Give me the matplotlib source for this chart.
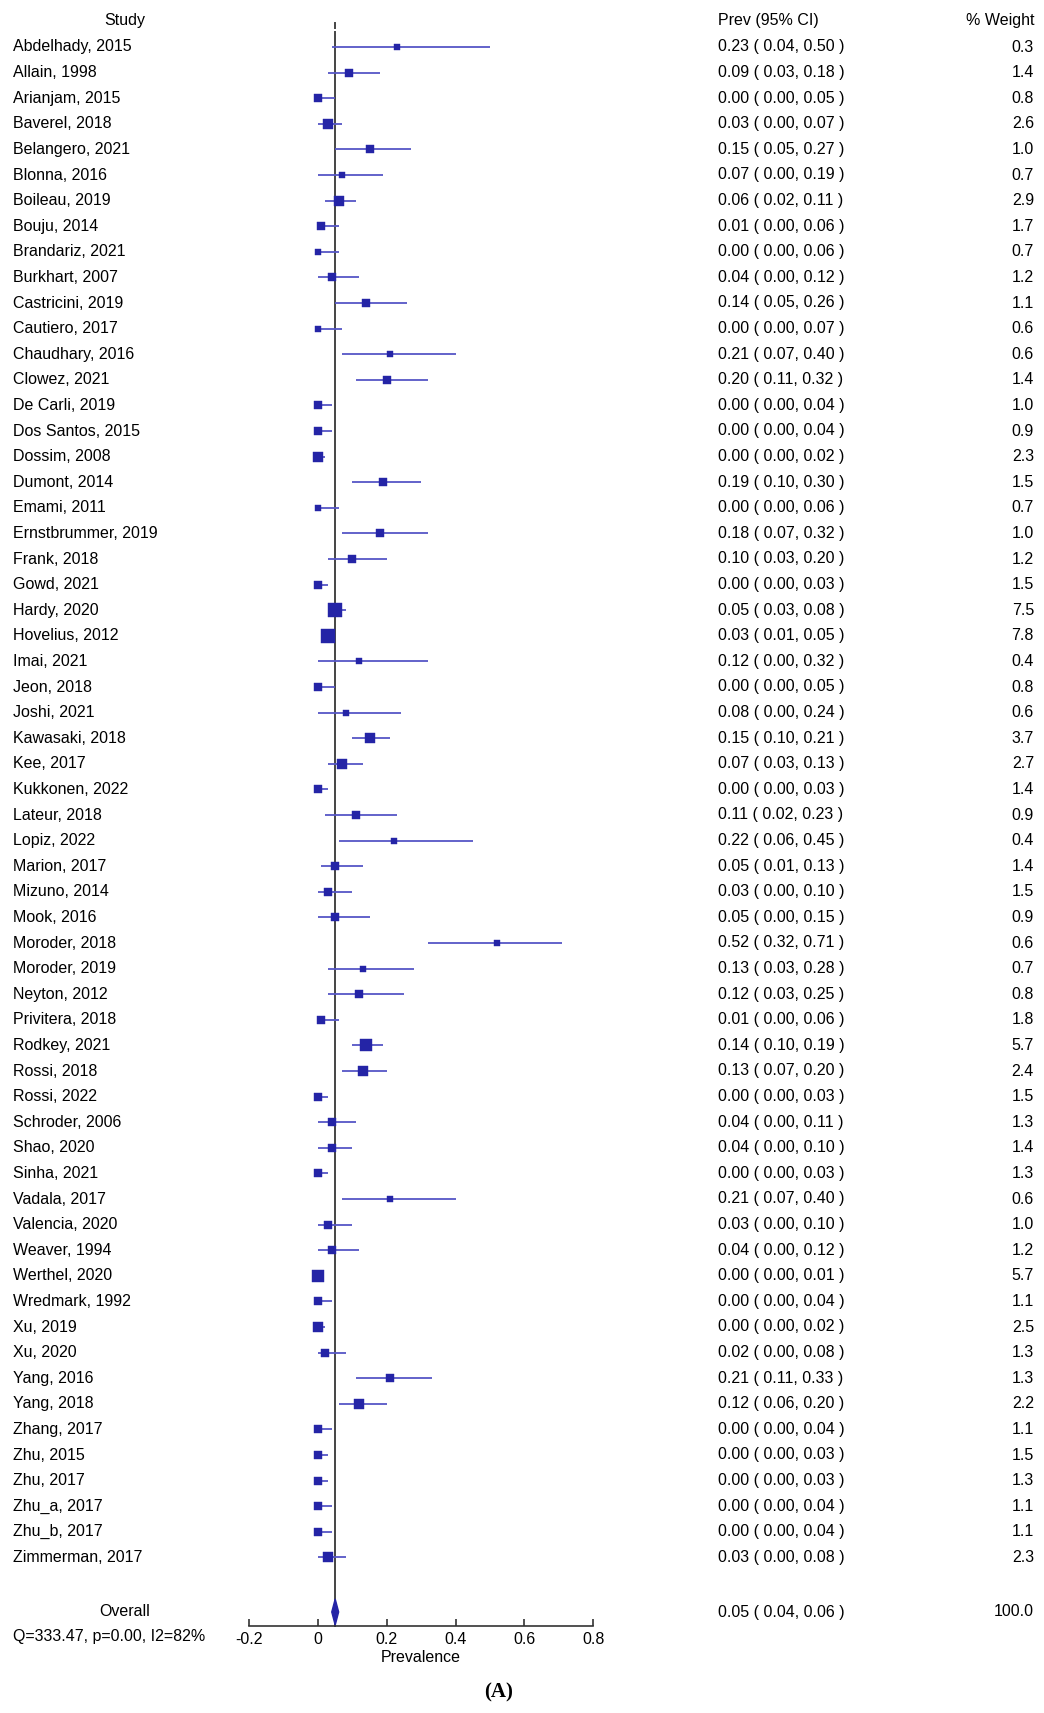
import numpy as np
import matplotlib.pyplot as plt
import matplotlib.transforms as mtransforms
from matplotlib.patches import Polygon

plt.rcParams['font.family'] = ['Liberation Sans', 'DejaVu Sans']

# study data: name, prevalence, lower, upper, % weight
studies = ['Abdelhady, 2015', 'Allain, 1998', 'Arianjam, 2015', 'Baverel, 2018',
           'Belangero, 2021', 'Blonna, 2016', 'Boileau, 2019', 'Bouju, 2014',
           'Brandariz, 2021', 'Burkhart, 2007', 'Castricini, 2019', 'Cautiero, 2017',
           'Chaudhary, 2016', 'Clowez, 2021', 'De Carli, 2019', 'Dos Santos, 2015',
           'Dossim, 2008', 'Dumont, 2014', 'Emami, 2011', 'Ernstbrummer, 2019',
           'Frank, 2018', 'Gowd, 2021', 'Hardy, 2020', 'Hovelius, 2012',
           'Imai, 2021', 'Jeon, 2018', 'Joshi, 2021', 'Kawasaki, 2018',
           'Kee, 2017', 'Kukkonen, 2022', 'Lateur, 2018', 'Lopiz, 2022',
           'Marion, 2017', 'Mizuno, 2014', 'Mook, 2016', 'Moroder, 2018',
           'Moroder, 2019', 'Neyton, 2012', 'Privitera, 2018', 'Rodkey, 2021',
           'Rossi, 2018', 'Rossi, 2022', 'Schroder, 2006', 'Shao, 2020',
           'Sinha, 2021', 'Vadala, 2017', 'Valencia, 2020', 'Weaver, 1994',
           'Werthel, 2020', 'Wredmark, 1992', 'Xu, 2019', 'Xu, 2020',
           'Yang, 2016', 'Yang, 2018', 'Zhang, 2017', 'Zhu, 2015',
           'Zhu, 2017', 'Zhu_a, 2017', 'Zhu_b, 2017', 'Zimmerman, 2017']
prev = [0.23, 0.09, 0.00, 0.03, 0.15, 0.07, 0.06, 0.01, 0.00, 0.04,
        0.14, 0.00, 0.21, 0.20, 0.00, 0.00, 0.00, 0.19, 0.00, 0.18,
        0.10, 0.00, 0.05, 0.03, 0.12, 0.00, 0.08, 0.15, 0.07, 0.00,
        0.11, 0.22, 0.05, 0.03, 0.05, 0.52, 0.13, 0.12, 0.01, 0.14,
        0.13, 0.00, 0.04, 0.04, 0.00, 0.21, 0.03, 0.04, 0.00, 0.00,
        0.00, 0.02, 0.21, 0.12, 0.00, 0.00, 0.00, 0.00, 0.00, 0.03]
lower = [0.04, 0.03, 0.00, 0.00, 0.05, 0.00, 0.02, 0.00, 0.00, 0.00,
         0.05, 0.00, 0.07, 0.11, 0.00, 0.00, 0.00, 0.10, 0.00, 0.07,
         0.03, 0.00, 0.03, 0.01, 0.00, 0.00, 0.00, 0.10, 0.03, 0.00,
         0.02, 0.06, 0.01, 0.00, 0.00, 0.32, 0.03, 0.03, 0.00, 0.10,
         0.07, 0.00, 0.00, 0.00, 0.00, 0.07, 0.00, 0.00, 0.00, 0.00,
         0.00, 0.00, 0.11, 0.06, 0.00, 0.00, 0.00, 0.00, 0.00, 0.00]
upper = [0.50, 0.18, 0.05, 0.07, 0.27, 0.19, 0.11, 0.06, 0.06, 0.12,
         0.26, 0.07, 0.40, 0.32, 0.04, 0.04, 0.02, 0.30, 0.06, 0.32,
         0.20, 0.03, 0.08, 0.05, 0.32, 0.05, 0.24, 0.21, 0.13, 0.03,
         0.23, 0.45, 0.13, 0.10, 0.15, 0.71, 0.28, 0.25, 0.06, 0.19,
         0.20, 0.03, 0.11, 0.10, 0.03, 0.40, 0.10, 0.12, 0.01, 0.04,
         0.02, 0.08, 0.33, 0.20, 0.04, 0.03, 0.03, 0.04, 0.04, 0.08]
weight = [0.3, 1.4, 0.8, 2.6, 1.0, 0.7, 2.9, 1.7, 0.7, 1.2,
          1.1, 0.6, 0.6, 1.4, 1.0, 0.9, 2.3, 1.5, 0.7, 1.0,
          1.2, 1.5, 7.5, 7.8, 0.4, 0.8, 0.6, 3.7, 2.7, 1.4,
          0.9, 0.4, 1.4, 1.5, 0.9, 0.6, 0.7, 0.8, 1.8, 5.7,
          2.4, 1.5, 1.3, 1.4, 1.3, 0.6, 1.0, 1.2, 5.7, 1.1,
          2.5, 1.3, 1.3, 2.2, 1.1, 1.5, 1.3, 1.1, 1.1, 2.3]

overall_est, overall_lo, overall_hi = 0.05, 0.04, 0.06
overall_weight = 100.0
het_text = 'Q=333.47, p=0.00, I2=82%'
ticks = [-0.2, 0, 0.2, 0.4, 0.6, 0.8]
tick_labels = ['-0.2', '0', '0.2', '0.4', '0.6', '0.8']

W, H = 1044, 1713
fig = plt.figure(figsize=(W / 100, H / 100), dpi=100)
ax = fig.add_axes([0, 0, 1, 1])

# x: prevalence units mapped so that 0 sits at px 318 and 1.0 spans 344 px
x0_px, unit_px = 318.0, 344.0
ax.set_xlim(-x0_px / unit_px, (W - x0_px) / unit_px)
ax.set_ylim(H, 0)  # y in pixel rows

row_y = 47 + 25.6 * np.arange(len(studies))
overall_y = 1612
axis_y = 1626

sq_color = '#2424a6'
ci_color = '#5656c6'
txt = mtransforms.blended_transform_factory(fig.transFigure, ax.transData)

# confidence intervals and weighted boxes
for i in range(len(studies)):
    ax.plot([lower[i], upper[i]], [row_y[i], row_y[i]], color=ci_color, lw=1.3,
            solid_capstyle='butt', zorder=2)
    side_px = 4.2 + 3.25 * np.sqrt(weight[i])
    ax.plot(prev[i], row_y[i], marker='s', ms=side_px * 0.72, color=sq_color,
            mec=sq_color, mew=0.3, zorder=3)

# vertical line at pooled estimate
ax.plot([overall_est, overall_est], [32, axis_y], color='#444444', lw=1.4, zorder=1)
ax.plot([overall_est, overall_est], [23, 28], color='#444444', lw=1.4, zorder=1)

# pooled diamond
diamond = Polygon([[overall_lo, overall_y], [overall_est, overall_y - 13],
                   [overall_hi, overall_y], [overall_est, overall_y + 13]],
                  closed=True, color=sq_color, zorder=4)
ax.add_patch(diamond)

# x axis
for s in ['top', 'left', 'right']:
    ax.spines[s].set_visible(False)
ax.spines['bottom'].set_position(('data', axis_y))
ax.spines['bottom'].set_bounds(ticks[0], ticks[-1])
ax.spines['bottom'].set_color('#333333')
ax.spines['bottom'].set_linewidth(1.2)
ax.set_xticks(ticks)
ax.set_xticklabels(tick_labels)
ax.tick_params(axis='x', direction='in', length=5, width=1.2, color='#333333',
               labelsize=11.5, pad=4)
ax.set_yticks([])
ax.patch.set_alpha(0)

fs = 11.5
ax.text(421 / W, 1657, 'Prevalence', transform=txt, ha='center', va='center', fontsize=fs)

# headers
ax.text(125 / W, 21, 'Study', transform=txt, ha='center', va='center', fontsize=fs)
ax.text(718 / W, 21, 'Prev (95% CI)', transform=txt, ha='left', va='center', fontsize=fs)
ax.text(1034 / W, 21, '% Weight', transform=txt, ha='right', va='center', fontsize=fs)

for i, name in enumerate(studies):
    ax.text(13 / W, row_y[i], name, transform=txt, ha='left', va='center', fontsize=fs)
    ax.text(718 / W, row_y[i], '%.2f ( %.2f, %.2f )' % (prev[i], lower[i], upper[i]),
            transform=txt, ha='left', va='center', fontsize=fs)
    ax.text(1034 / W, row_y[i], '%.1f' % weight[i], transform=txt, ha='right',
            va='center', fontsize=fs)

ax.text(125 / W, overall_y, 'Overall', transform=txt, ha='center', va='center', fontsize=fs)
ax.text(13 / W, 1636, het_text, transform=txt, ha='left', va='center', fontsize=fs)
ax.text(718 / W, overall_y, '%.2f ( %.2f, %.2f )' % (overall_est, overall_lo, overall_hi),
        transform=txt, ha='left', va='center', fontsize=fs)
ax.text(1034 / W, overall_y, '%.1f' % overall_weight, transform=txt, ha='right',
        va='center', fontsize=fs)

ax.text(499 / W, 1692, '(A)', transform=txt, ha='center', va='center', fontsize=15,
        fontweight='bold', family=['Liberation Serif', 'DejaVu Serif'])

fig.savefig('out.png', dpi=100)
